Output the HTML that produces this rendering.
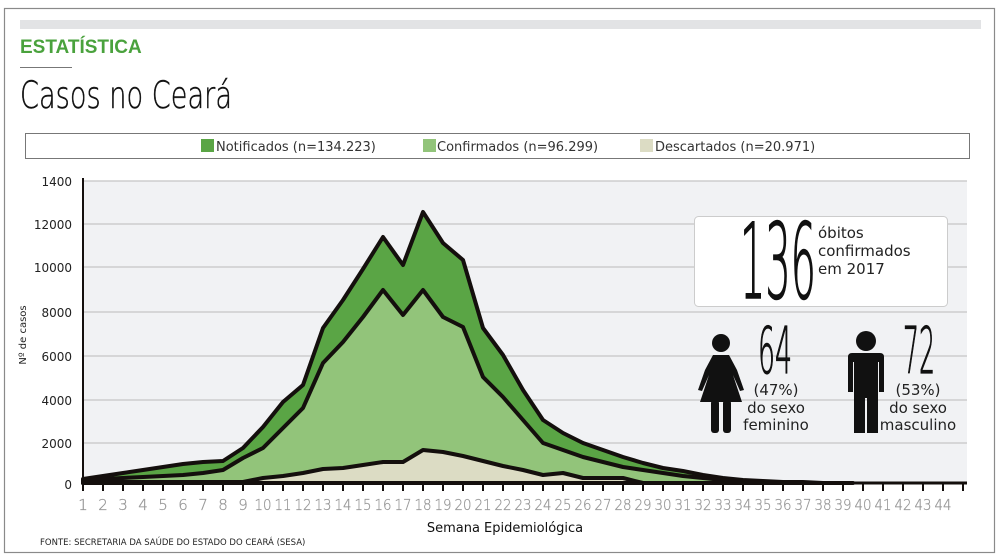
<!DOCTYPE html>
<html><head><meta charset="utf-8"><style>
body{margin:0;background:#fff;}
svg{display:block;font-family:"DejaVu Sans","Liberation Sans",sans-serif;}
.thin{font-family:"DejaVu Sans ExtraLight","DejaVu Sans","Liberation Sans",sans-serif;font-weight:200;}
</style></head><body>
<svg width="1000" height="560" viewBox="0 0 1000 560" xmlns="http://www.w3.org/2000/svg">
<rect x="4.5" y="8.5" width="990" height="544" fill="#fff" stroke="#8a8a8a" stroke-width="1.2"/>
<rect x="20" y="20" width="961" height="9" fill="#e2e3e5"/>
<text x="20" y="53" font-family="Liberation Sans, sans-serif" font-weight="bold" font-size="19" fill="#4aa23d">ESTATÍSTICA</text>
<line x1="20" y1="67.5" x2="72" y2="67.5" stroke="#777" stroke-width="1"/>
<text x="20" y="108" class="thin" font-size="37" fill="#111" stroke="#111" stroke-width="0.4" textLength="212" lengthAdjust="spacingAndGlyphs">Casos no Ceará</text>
<rect x="25.5" y="133.5" width="944" height="25" fill="#fff" stroke="#777"/>
<rect x="201" y="139" width="13" height="13" fill="#5aa545"/>
<text x="216" y="151" font-size="13" fill="#333">Notificados (n=134.223)</text>
<rect x="423" y="139" width="13" height="13" fill="#92c47a"/>
<text x="437" y="151" font-size="13" fill="#333">Confirmados (n=96.299)</text>
<rect x="640" y="139" width="13" height="13" fill="#dcdcc4"/>
<text x="655" y="151" font-size="13" fill="#333">Descartados (n=20.971)</text>
<rect x="83" y="181" width="884" height="302" fill="#f1f2f4"/>
<g stroke="#cdcdcd" stroke-width="1.5">
<line x1="83" y1="181" x2="967" y2="181"/><line x1="83" y1="224" x2="967" y2="224"/>
<line x1="83" y1="267" x2="967" y2="267"/><line x1="83" y1="312" x2="967" y2="312"/>
<line x1="83" y1="356" x2="967" y2="356"/><line x1="83" y1="400" x2="967" y2="400"/>
<line x1="83" y1="443" x2="967" y2="443"/></g>
<g font-size="12" fill="#222" text-anchor="end">
<text x="72" y="186">1400</text><text x="72" y="229">12000</text><text x="72" y="272">10000</text>
<text x="72" y="317">8000</text><text x="72" y="361">6000</text><text x="72" y="405">4000</text>
<text x="72" y="448">2000</text><text x="72" y="489">0</text></g>
<text transform="translate(26 335) rotate(-90)" font-size="10" fill="#222" text-anchor="middle">Nº de casos</text>
<path d="M83,479 L103,476 L123,473 L143,470 L163,467 L183,464 L203,462 L223,461 L243,448 L263,427 L283,402 L303,385 L323,328 L343,300 L363,269 L383,237 L403,265 L423,212 L443,243 L463,260 L483,328 L503,355 L523,390 L543,420 L563,433 L583,443 L603,450 L623,457 L643,463 L663,468 L683,471 L703,475 L723,478 L743,480 L763,481 L783,482 L803,482 L823,483 L843,483 L853,483 L83,483 Z" fill="#5aa545" stroke="#140f0d" stroke-width="4" stroke-linejoin="round"/>
<path d="M83,481 L103,479 L123,478 L143,477 L163,476 L183,475 L203,473 L223,470 L243,458 L263,448 L283,428 L303,408 L323,363 L343,342 L363,317 L383,290 L403,315 L423,290 L443,317 L463,327 L483,377 L503,397 L523,420 L543,443 L563,450 L583,457 L603,462 L623,467 L643,470 L663,473 L683,476 L703,478 L723,480 L743,482 L763,483 L83,483 Z" fill="#92c47a" stroke="#140f0d" stroke-width="4" stroke-linejoin="round"/>
<path d="M83,482 L243,482 L263,478 L283,476 L303,473 L323,469 L343,468 L363,465 L383,462 L403,462 L423,450 L443,452 L463,456 L483,461 L503,466 L523,470 L543,475 L563,473 L583,478 L603,478 L623,478 L643,483 L83,483 Z" fill="#dcdcc4" stroke="#140f0d" stroke-width="4" stroke-linejoin="round"/>
<line x1="83" y1="483" x2="967" y2="483" stroke="#140f0d" stroke-width="3"/>
<line x1="83" y1="178" x2="83" y2="490" stroke="#140f0d" stroke-width="2"/>
<g id="ticks" stroke="#140f0d" stroke-width="2"></g>
<g id="xl" class="thin" font-size="15" fill="#999" stroke="#999" stroke-width="0.3" text-anchor="middle"></g>
<text x="505" y="532" font-size="13" fill="#111" text-anchor="middle">Semana Epidemiológica</text>
<text x="40" y="545" font-size="8.5" fill="#222">FONTE: SECRETARIA DA SAÚDE DO ESTADO DO CEARÁ (SESA)</text>
<rect x="694.5" y="216.5" width="253" height="90" rx="4" fill="#fff" stroke="#ccc"/>
<text x="740" y="298" class="thin" font-size="104" fill="#111" stroke="#111" stroke-width="1.6" textLength="76" lengthAdjust="spacingAndGlyphs">136</text>
<g font-size="15" fill="#222"><text x="818" y="238">óbitos</text><text x="818" y="256">confirmados</text><text x="818" y="274">em 2017</text></g>
<text x="758" y="373" class="thin" font-size="64" fill="#111" stroke="#111" stroke-width="1.2" textLength="34" lengthAdjust="spacingAndGlyphs">64</text>
<text x="903" y="373" class="thin" font-size="64" fill="#111" stroke="#111" stroke-width="1.2" textLength="32" lengthAdjust="spacingAndGlyphs">72</text>
<g font-size="15" fill="#222" text-anchor="middle">
<text x="776" y="395">(47%)</text><text x="776" y="413">do sexo</text><text x="776" y="430">feminino</text>
<text x="918" y="395">(53%)</text><text x="918" y="413">do sexo</text><text x="918" y="430">masculino</text></g>
<g fill="#111">
<circle cx="721" cy="343" r="9"/>
<path d="M713,355 L729,355 L737,370 L744,390 L740,391 L733,375 L742,402 L700,402 L709,375 L702,391 L698,390 L705,370 Z"/>
<rect x="711" y="400" width="8" height="33" rx="3"/><rect x="723" y="400" width="8" height="33" rx="3"/>
<circle cx="866" cy="341" r="10"/>
<path d="M852,353 L880,353 Q884,353 884,357 L884,392 L879,392 L879,362 L878,362 L878,433 L867,433 L867,398 L865,398 L865,433 L854,433 L854,362 L853,362 L853,392 L848,392 L848,357 Q848,353 852,353 Z"/>
</g>
</svg>
<script>
var t=document.getElementById('ticks'),l=document.getElementById('xl'),ns="http://www.w3.org/2000/svg";
for(var i=0;i<45;i++){var x=83+i*20;var ln=document.createElementNS(ns,'line');ln.setAttribute('x1',x);ln.setAttribute('x2',x);ln.setAttribute('y1',483);ln.setAttribute('y2',491);t.appendChild(ln);
if(i<44){var tx=document.createElementNS(ns,'text');tx.setAttribute('x',x);tx.setAttribute('y',510);tx.textContent=i+1;if(i>=9){tx.setAttribute('textLength','17');tx.setAttribute('lengthAdjust','spacingAndGlyphs');}l.appendChild(tx);}}
</script>
</body></html>
